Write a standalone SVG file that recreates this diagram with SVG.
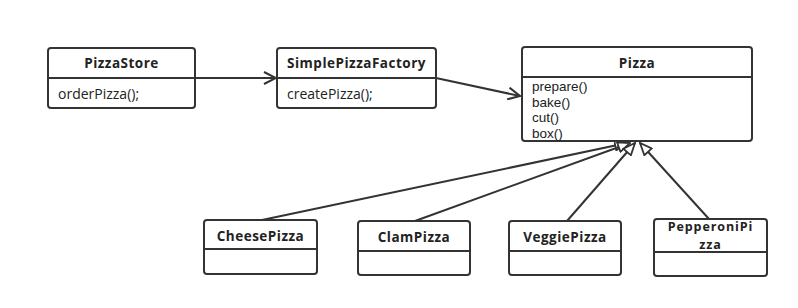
<svg xmlns="http://www.w3.org/2000/svg" width="798" height="308" viewBox="0 0 798 308">
  <defs>
    <style>
      .box { fill: #ffffff; stroke: #333333; stroke-width: 2; }
      .div { stroke: #333333; stroke-width: 2; }
      .title { font-family: "Open Sans", "Noto Sans", sans-serif; font-size: 13.5px; font-weight: bold; fill: #222222; text-anchor: middle; letter-spacing: 0.5px; }
      .wrap { font-size: 12.5px; letter-spacing: 0.9px; }
      .member { font-family: "Open Sans", "Noto Sans", sans-serif; font-size: 14px; fill: #222222; }
      .op { font-family: "Liberation Sans", Arial, sans-serif; font-size: 13.5px; fill: #222222; }
      .link { fill: none; stroke: #333333; stroke-width: 2; }
    </style>
    <marker id="open" viewBox="0 0 14 14" refX="13" refY="7" markerWidth="14" markerHeight="14" markerUnits="userSpaceOnUse" orient="auto">
      <path d="M1,1 L13,7 L1,13" fill="none" stroke="#333333" stroke-width="2"/>
    </marker>
    <marker id="tri" viewBox="0 0 14 12" refX="13" refY="6" markerWidth="14" markerHeight="12" markerUnits="userSpaceOnUse" orient="auto">
      <path d="M1,1 L13,6 L1,11 Z" fill="#ffffff" stroke="#333333" stroke-width="1.8"/>
    </marker>
  </defs>

  <!-- connectors: dependencies and generalizations -->
  <g id="connectors">
    <line class="link" x1="195" y1="78" x2="276" y2="78" marker-end="url(#open)"/>
    <line class="link" x1="436" y1="78" x2="520" y2="96" marker-end="url(#open)"/>
    <line class="link" x1="262" y1="220" x2="627" y2="143" marker-end="url(#tri)"/>
    <line class="link" x1="415" y1="221" x2="630" y2="143" marker-end="url(#tri)"/>
    <line class="link" x1="567" y1="221" x2="635" y2="143" marker-end="url(#tri)"/>
    <line class="link" x1="709" y1="219" x2="640" y2="143" marker-end="url(#tri)"/>
  </g>

  <g id="PizzaStore">
    <rect class="box" x="48" y="48" width="147" height="60" rx="3"/>
    <line class="div" x1="48" y1="78" x2="195" y2="78"/>
    <text class="title" x="121.5" y="68">PizzaStore</text>
    <text class="member" x="58" y="99">orderPizza();</text>
  </g>

  <g id="SimplePizzaFactory">
    <rect class="box" x="277" y="48" width="159" height="60" rx="3"/>
    <line class="div" x1="277" y1="78" x2="436" y2="78"/>
    <text class="title" x="356.5" y="68">SimplePizzaFactory</text>
    <text class="member" x="287" y="99">createPizza();</text>
  </g>

  <g id="Pizza">
    <rect class="box" x="522" y="47" width="230" height="94" rx="3"/>
    <line class="div" x1="522" y1="77" x2="752" y2="77"/>
    <text class="title" x="637" y="68">Pizza</text>
    <text class="op" x="532" y="91">prepare()</text>
    <text class="op" x="532" y="106.5">bake()</text>
    <text class="op" x="532" y="122">cut()</text>
    <text class="op" x="532" y="137.5">box()</text>
  </g>

  <g id="CheesePizza">
    <rect class="box" x="204" y="220" width="113" height="54" rx="3"/>
    <line class="div" x1="204" y1="249" x2="317" y2="249"/>
    <text class="title" x="260.5" y="241">CheesePizza</text>
  </g>

  <g id="ClamPizza">
    <rect class="box" x="358" y="221" width="112" height="54" rx="3"/>
    <line class="div" x1="358" y1="251" x2="470" y2="251"/>
    <text class="title" x="414" y="242">ClamPizza</text>
  </g>

  <g id="VeggiePizza">
    <rect class="box" x="509" y="221" width="112" height="54" rx="3"/>
    <line class="div" x1="509" y1="251" x2="621" y2="251"/>
    <text class="title" x="565" y="242">VeggiePizza</text>
  </g>

  <g id="PepperoniPizza">
    <rect class="box" x="654" y="219" width="113" height="57" rx="3"/>
    <line class="div" x1="654" y1="252" x2="767" y2="252"/>
    <!-- name wrapped over two lines -->
    <text class="title wrap" x="710.5" y="231">PepperoniPi</text>
    <text class="title wrap" x="710.5" y="248.5">zza</text>
  </g>
</svg>
